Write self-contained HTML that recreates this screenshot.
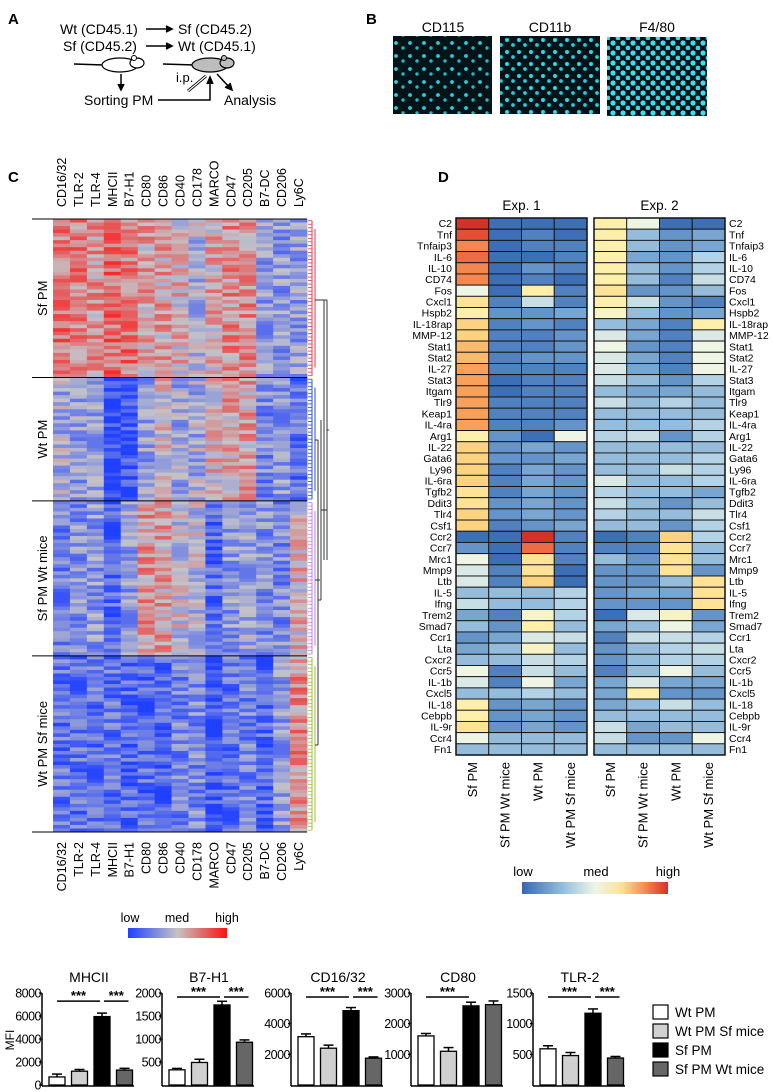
<!DOCTYPE html>
<html><head><meta charset="utf-8"><style>
html,body{margin:0;padding:0;background:#fff;}
svg{display:block;font-family:"Liberation Sans",Arial,sans-serif;}
</style></head><body>
<svg id="fig" width="773" height="1092" viewBox="0 0 773 1092" xmlns="http://www.w3.org/2000/svg">
<defs>
<pattern id="cells1" width="14" height="13" patternUnits="userSpaceOnUse"><rect width="14" height="13" fill="#031418"/><circle cx="4" cy="4" r="1.9" fill="#2bd0e0"/><circle cx="11" cy="9" r="1.7" fill="#22b8c8"/></pattern>
<pattern id="cells2" width="12" height="12" patternUnits="userSpaceOnUse"><rect width="12" height="12" fill="#031418"/><circle cx="3" cy="4" r="2" fill="#2ed6e6"/><circle cx="9" cy="9" r="1.9" fill="#28c8d8"/></pattern>
<pattern id="cells3" width="10" height="10" patternUnits="userSpaceOnUse"><rect width="10" height="10" fill="#021216"/><circle cx="3" cy="3" r="2.6" fill="#35e0f0"/><circle cx="8" cy="8" r="2.4" fill="#30d8ea"/></pattern>
<linearGradient id="gradC" x1="0" x2="1"><stop offset="0" stop-color="#2040ff"/><stop offset="0.5" stop-color="#c4c4c4"/><stop offset="1" stop-color="#ff1010"/></linearGradient>
<linearGradient id="gradD" x1="0" x2="1"><stop offset="0" stop-color="#3868b0"/><stop offset="0.3" stop-color="#9cc4df"/><stop offset="0.5" stop-color="#eef6e4"/><stop offset="0.68" stop-color="#fde39a"/><stop offset="0.85" stop-color="#f5854e"/><stop offset="1" stop-color="#d73027"/></linearGradient>
</defs>

<!-- Panel A -->
<g font-size="14">
<text x="8" y="24" font-weight="bold" font-size="15">A</text>
<text x="60" y="34">Wt (CD45.1)</text>
<text x="178" y="34">Sf (CD45.2)</text>
<text x="63" y="51">Sf (CD45.2)</text>
<text x="178" y="51">Wt (CD45.1)</text>
<g stroke="#000" stroke-width="1.6" fill="none">
<line x1="146" y1="29" x2="170" y2="29"/><polyline points="166,26 172,29 166,32" fill="#000"/>
<line x1="146" y1="46" x2="170" y2="46"/><polyline points="166,43 172,46 166,49" fill="#000"/>
</g>
<g>
<line x1="74" y1="64" x2="104" y2="65" stroke="#000" stroke-width="1.5"/>
<ellipse cx="120" cy="65" rx="18" ry="7" fill="#fff" stroke="#000" stroke-width="1.2"/>
<ellipse cx="137" cy="63" rx="7" ry="5" fill="#fff" stroke="#000" stroke-width="1.2"/>
<circle cx="134" cy="58" r="2.5" fill="#fff" stroke="#000"/>
</g>
<g>
<line x1="163" y1="64" x2="195" y2="65" stroke="#000" stroke-width="1.5"/>
<ellipse cx="210" cy="65" rx="18" ry="7" fill="#bdbdbd" stroke="#000" stroke-width="1.2"/>
<ellipse cx="227" cy="63" rx="7" ry="5" fill="#bdbdbd" stroke="#000" stroke-width="1.2"/>
<circle cx="224" cy="58" r="2.5" fill="#bdbdbd" stroke="#000"/>
</g>
<g stroke="#000" stroke-width="1.5" fill="none">
<line x1="121" y1="74" x2="121" y2="88"/><polyline points="118,84 121,90 124,84" fill="#000"/>
<polyline points="158,100 210,100 210,80"/><polyline points="207,84 210,77 213,84" fill="#000"/>
<line x1="217" y1="74" x2="230" y2="88"/><polyline points="225,87 232,90 230,83" fill="#000"/>
<line x1="188" y1="91" x2="206" y2="76" stroke-width="3"/><line x1="188" y1="91" x2="206" y2="76" stroke="#fff" stroke-width="1.2"/>
</g>
<text x="176" y="82" font-size="13">i.p.</text>
<text x="84" y="105">Sorting PM</text>
<text x="224" y="105">Analysis</text>
</g>

<!-- Panel B -->
<g font-size="14">
<text x="366" y="24" font-weight="bold" font-size="15">B</text>
<text x="443" y="32" text-anchor="middle">CD115</text>
<text x="550" y="32" text-anchor="middle">CD11b</text>
<text x="657" y="32" text-anchor="middle">F4/80</text>
<rect x="393" y="36" width="99" height="78" fill="url(#cells1)"/>
<rect x="500" y="36" width="100" height="78" fill="url(#cells2)"/>
<rect x="607" y="37" width="100" height="79" fill="url(#cells3)"/>
</g>

<text x="8" y="182" font-weight="bold" font-size="15">C</text>
<text x="438" y="182" font-weight="bold" font-size="15">D</text>
<g id="panelC"></g>
<g id="panelD"></g>
<g id="panelE"></g>
</svg>
<script>
// ---------- Panel C data ----------
const cMarkers = ["CD16/32","TLR-2","TLR-4","MHCII","B7-H1","CD80","CD86","CD40","CD178","MARCO","CD47","CD205","B7-DC","CD206","Ly6C"];
const cGroups = ["Sf PM","Wt PM","Sf PM Wt mice","Wt PM Sf mice"];
const cGroupRows = [45,35,44,50];
const cMeanSfPM = [0.45,0.4,0.25,0.5,0.45,0.2,0.2,0.1,-0.15,0.15,0.3,0.3,-0.3,-0.35,-0.3];
const cMeanWtPM = [-0.2,-0.3,-0.25,-0.95,-0.85,-0.3,0.05,-0.25,-0.2,0.1,0.2,0.2,-0.45,-0.35,-0.6];
const cMeanSfWt = [-0.5,-0.4,-0.35,-0.7,-0.3,0.25,0.2,-0.05,-0.1,-0.7,-0.35,-0.25,-0.4,-0.45,0.1];
const cMeanWtSf = [-0.6,-0.6,-0.6,-0.6,-0.7,-0.65,-0.7,-0.5,-0.45,-0.8,-0.6,-0.5,-0.7,-0.3,0.3];
const cTexture = "3816049275513862094718265730491857206384957102648395067281945036271859402687315947260385194072";

// ---------- Panel D data ----------
const dGenes = ["C2","Tnf","Tnfaip3","IL-6","IL-10","CD74","Fos","Cxcl1","Hspb2","IL-18rap","MMP-12","Stat1","Stat2","IL-27","Stat3","Itgam","Tlr9","Keap1","IL-4ra","Arg1","IL-22","Gata6","Ly96","IL-6ra","Tgfb2","Ddit3","Tlr4","Csf1","Ccr2","Ccr7","Mrc1","Mmp9","Ltb","IL-5","Ifng","Trem2","Smad7","Ccr1","Lta","Cxcr2","Ccr5","IL-1b","Cxcl5","IL-18","Cebpb","IL-9r","Ccr4","Fn1"];
const dConditions = ["Sf PM","Sf PM Wt mice","Wt PM","Wt PM Sf mice"];
const dExp1SfPM   = [10,9.5,8.5,9,8.5,8.5,5,6.5,6,7,7,7.5,7.5,8,8,8,8,8,8,6,7,7,7,7,6.5,6.5,7,7,1,2,5,4.5,4.5,3,4,2.5,3,2,2.5,3,5,4.5,3,6,6,6.5,5,3];
const dExp1SfWt   = [1,1,1,1,1,1,1,1.5,2,1.5,1.5,1.5,1.5,1.5,1,1,1.5,1.5,1.5,2,2,2,1.5,1.5,1.5,2,2,1.5,1,1,1,1.5,1.5,3,3,1.5,2,2.5,3,3,1.5,1.5,3,2,2,2,3,3];
const dExp1WtPM   = [1,1.5,1.5,1,2,1.5,6,4,2,2,1.5,1.5,2,1.5,1.5,1.5,1.5,1.5,1.5,1,2.5,2,2.5,2.5,2.5,2.5,2.5,2,10,9,6.5,6.5,7,3,3,5.5,6,4.5,5.5,4,4,5,3.5,2.5,2.5,2.5,3,3];
const dExp1WtSf   = [1,1,1.5,1.5,1.5,1,1.5,1.5,2.5,1.5,2,2,2,1.5,1.5,1.5,1.5,1.5,2,5,2,2.5,2,2,2,2,2,2.5,1.5,1.5,1.5,1,1,3.5,3.5,3.5,3,4,3,3.5,3,2.5,3,2,2,2,3,3];
const dExp2SfPM   = [6,6,6,6,6,6,6.5,6,5.5,3,4.5,5,4.5,4.5,4,3,4,3,3,3.5,3,3,3,4.5,3.5,4,3.5,3,1,1.5,3,2,2,2,2,1,2.5,1.5,2,2,1.5,2.5,2.5,2.5,3,4,4,3];
const dExp2SfWt   = [5,3,3,2.5,3,3,2,4,3,2.5,2.5,2,2.5,2.5,3,2.5,3,3,3,4,3,3,3,3,3,3,3,3,1.5,1.5,2,2,2,2.5,2,4.5,3,4,3,3,3,4.5,6,3,3,2.5,2,3];
const dExp2WtPM   = [1,2,2,2,2,1.5,2,2,2,1.5,1.5,1.5,1.5,1.5,2,2.5,3.5,3,3,2,3,3,4,3,3,2,3,2,7,6.5,6.5,6.5,3,2.5,2,5.5,5,4,3.5,3.5,5,2.5,2,4,3,3,2,3];
const dExp2WtSf   = [1,2.5,2.5,3.5,3.5,4,3,1.5,2.5,6,4.5,5,5,5,3.5,3,3,3,3.5,3.5,3,3.5,3.5,3.5,2.5,3,4,3.5,3.5,3,3,2,6.5,6.5,6.5,2,2.5,3.5,4,3.5,3,2.5,2,3,3,3,5,3];

// ---------- Bar chart data ----------
const barMarkers = ["MHCII","B7-H1","CD16/32","CD80","TLR-2"];
const barGroups = ["Wt PM","Wt PM Sf mice","Sf PM","Sf PM Wt mice"];
const barMax = [8000,2000,6000,3000,1500];
const barTicks = [[0,2000,4000,6000,8000],[500,1000,1500,2000],[2000,4000,6000],[1000,2000,3000],[500,1000,1500]];
const barMeans = [[700,1200,5950,1300],[330,490,1740,930],[3150,2400,4850,1750],[1600,1100,2580,2620],[590,480,1170,440]];
const barErrs  = [[250,150,300,150],[30,70,80,50],[180,200,200,80],[80,120,120,120],[50,50,70,25]];
const barSig = [[[0,2],[2,3]],[[0,2],[2,3]],[[0,2],[2,3]],[[0,2]],[[0,2],[2,3]]];

const NS="http://www.w3.org/2000/svg";
function mk(tag,attrs,parent,txt){const e=document.createElementNS(NS,tag);for(const k in attrs)e.setAttribute(k,attrs[k]);if(txt!==undefined)e.textContent=txt;parent.appendChild(e);return e;}
function lerp(a,b,t){return a+(b-a)*t;}
function mixHex(c1,c2,t){const p=h=>[1,3,5].map(i=>parseInt(h.substr(i,2),16));const a=p(c1),b=p(c2);return "rgb("+a.map((v,i)=>Math.round(lerp(v,b[i],t))).join(",")+")";}

// ---------- Panel C ----------
(function(){
const g=document.getElementById('panelC');
const x0=53,x1=307,y0=219,y1=832;
const nC=cMarkers.length, cw=(x1-x0)/nC;
const xC=i=>x0+i*cw;
const totalRows=cGroupRows.reduce((a,b)=>a+b,0);
const rh=(y1-y0)/totalRows;
const means=[cMeanSfPM,cMeanWtPM,cMeanSfWt,cMeanWtSf];
function col(v){v=Math.max(-1,Math.min(1,v));return v<0?mixHex("#c4c4c8","#2040ff",-v):mixHex("#c4c4c8","#ff1010",v);}
let r=0;const bounds=[y0];
means.forEach((m,gi)=>{
  for(let k=0;k<cGroupRows[gi];k++,r++){
    for(let c=0;c<nC;c++){
      const t=(+cTexture[(r*7+c*13)%cTexture.length]-4.5)/4.5;
      const v=m[c]+t*0.35;
      const cell=mk('rect',{x:xC(c).toFixed(2),y:(y0+r*rh).toFixed(2),width:(cw+0.4).toFixed(2),height:(rh+0.4).toFixed(2),fill:col(v)},g);
      
      
    }
  }
  bounds.push(y0+r*rh);
});
bounds.forEach((b,i)=>{const l=mk('line',{x1:32,x2:x1,y1:b,y2:b,stroke:'#000','stroke-width':1},g);

});
cGroups.forEach((name,i)=>{const cy=(bounds[i]+bounds[i+1])/2;
const t=mk('text',{x:0,y:0,transform:`translate(47,${cy}) rotate(-90)`,'text-anchor':'middle','font-size':13},g,name);

});
cMarkers.forEach((m,i)=>{const cx=xC(i)+cw/2+4.5;
const t=mk('text',{x:0,y:0,transform:`translate(${cx},207) rotate(-90)`,'font-size':12.5},g,m);


const b=mk('text',{x:0,y:0,transform:`translate(${cx},842) rotate(-90)`,'text-anchor':'end','font-size':12.5},g,m);

});
const dcol=['#e8384a','#2a4fd8','#c07ef0','#9cc23a'];
for(let gi=0;gi<4;gi++){
  const a=bounds[gi],b=bounds[gi+1];
  for(let y=a+1.7;y<b;y+=rh){mk('line',{x1:308,x2:312,y1:y,y2:y,stroke:dcol[gi],'stroke-width':0.8},g);}
  mk('line',{x1:312,x2:312,y1:a+1.7,y2:b-1.7,stroke:dcol[gi],'stroke-width':1},g);
  mk('line',{x1:315,x2:315,y1:a+10,y2:b-10,stroke:dcol[gi],'stroke-width':1},g);
}
const dk=mk('path',{d:'M315,300 H324 M315,440 H318 M315,580 H320 M315,745 H318 M318,440 V745 M318,600 H321 M321,420 V600 M321,510 H327 M324,300 V560 M324,300 H327 M327,300 V560 M327,430 H329',stroke:'#333','stroke-width':1,fill:'none'},g);


const lg=mk('rect',{x:128,y:928,width:99,height:10,fill:'url(#gradC)'},g);


[['low',130],['med',177],['high',227]].forEach(([s,x])=>{const t=mk('text',{x:x,y:922,'text-anchor':'middle','font-size':12.5},g,s);

});
})();

// ---------- Panel D ----------
(function(){
const g=document.getElementById('panelD');
const y0=218,y1=755,n=dGenes.length,rh=(y1-y0)/n;
const cw=(587-456)/4;
const exps=[{x:456,cols:[dExp1SfPM,dExp1SfWt,dExp1WtPM,dExp1WtSf],title:'Exp. 1'},{x:594,cols:[dExp2SfPM,dExp2SfWt,dExp2WtPM,dExp2WtSf],title:'Exp. 2'}];
const stops=[[0,'#3462ad'],[1,'#3d6fb6'],[2.5,'#79a6d1'],[3.5,'#b3d2e6'],[5,'#eef5e4'],[6,'#fef0aa'],[7,'#fdd381'],[8,'#f9a05a'],[9,'#ef6b43'],[10,'#d73027']];
function col(v){for(let i=1;i<stops.length;i++){if(v<=stops[i][0]){const t=(v-stops[i-1][0])/(stops[i][0]-stops[i-1][0]);return mixHex(stops[i-1][1],stops[i][1],t);}}return stops[stops.length-1][1];}
exps.forEach(e=>{
  const t=mk('text',{x:e.x+2*cw,y:210,'text-anchor':'middle','font-size':13.5},g,e.title);
  
  
  e.cols.forEach((arr,c)=>{arr.forEach((v,r)=>{
    const cell=mk('rect',{x:(e.x+c*cw).toFixed(2),y:(y0+r*rh).toFixed(2),width:cw.toFixed(2),height:rh.toFixed(2),fill:col(v),stroke:'#111','stroke-width':0.9},g);
    
    
  });
  const lab=mk('text',{x:0,y:0,transform:`translate(${e.x+c*cw+cw/2+4.5},762) rotate(-90)`,'text-anchor':'end','font-size':13},g,dConditions[c]);
  
  
  });
  mk('rect',{x:e.x,y:y0,width:4*cw,height:y1-y0,fill:'none',stroke:'#111','stroke-width':1.5},g);
});
dGenes.forEach((name,r)=>{const cy=y0+r*rh+rh/2+3.6;
const a=mk('text',{x:452,y:cy,'text-anchor':'end','font-size':10.5},g,name);


const b=mk('text',{x:729,y:cy,'font-size':10.5},g,name);

});
const lg=mk('rect',{x:522,y:882,width:146,height:12,fill:'url(#gradD)'},g);


[['low',523],['med',596],['high',668]].forEach(([s,x])=>{const t=mk('text',{x:x,y:876,'text-anchor':'middle','font-size':13},g,s);

});
})();

// ---------- Bar charts ----------
(function(){
const g=document.getElementById('panelE');
const axX=[42,162,291,411,533];
const fills=['#ffffff','#d0d0d0','#000000','#666666'];
const yB=1085,yT=993;
barMarkers.forEach((m,ci)=>{
  const x0=axX[ci];
  const y=v=>yB-(v/barMax[ci])*(yB-yT);
  const t=mk('text',{x:x0+47,y:982,'text-anchor':'middle','font-size':14},g,m);
  
  
  mk('line',{x1:x0,x2:x0,y1:yT,y2:yB+1,stroke:'#000','stroke-width':1.5},g);
  mk('line',{x1:x0,x2:x0+92,y1:yB+1,y2:yB+1,stroke:'#000','stroke-width':1.5},g);
  barTicks[ci].forEach(v=>{mk('line',{x1:x0-3,x2:x0,y1:y(v),y2:y(v),stroke:'#000','stroke-width':1.2},g);
    const tl=mk('text',{x:x0-1,y:y(v)+4.5,'text-anchor':'end','font-size':12.5,'letter-spacing':'-0.5'},g,String(v));
    
    });
  const bx=i=>x0+7+i*22.5;
  barMeans[ci].forEach((v,i)=>{
    const cx=bx(i)+8;
    mk('line',{x1:cx,x2:cx,y1:y(v),y2:y(v+barErrs[ci][i]),stroke:'#000','stroke-width':1.5},g);
    mk('line',{x1:cx-5,x2:cx+5,y1:y(v+barErrs[ci][i]),y2:y(v+barErrs[ci][i]),stroke:'#000','stroke-width':1.5},g);
    const b=mk('rect',{x:bx(i),y:y(v),width:16,height:yB-y(v),fill:fills[i],stroke:'#000','stroke-width':1.3},g);
    
    
  });
  barSig[ci].forEach(([a,b])=>{
    const top=Math.max(...barMeans[ci].slice(a,b+1).map((v,k)=>v+barErrs[ci][a+k]));
    const ly=Math.max(yT+4,y(top)-12);
    const xa=bx(a)+8+(a===0?0:2), xb=bx(b)+8-(b===2?2:0)+(b===3?4:0);
    mk('line',{x1:xa,x2:xb,y1:ly,y2:ly,stroke:'#000','stroke-width':1.5},g);
    const s=mk('text',{x:(xa+xb)/2,y:ly-1,'text-anchor':'middle','font-size':13,'font-weight':'bold'},g,'***');
    
    
  });
});
const mfi=mk('text',{x:0,y:0,transform:'translate(14,1040) rotate(-90)','text-anchor':'middle','font-size':12},g,'MFI');


barGroups.forEach((name,i)=>{const yy=1012+i*19;
  const r=mk('rect',{x:653,y:yy-7,width:15,height:14,fill:fills[i],stroke:'#000','stroke-width':1.2},g);
  
  
  const t=mk('text',{x:675,y:yy+5,'font-size':13.5},g,name);
  
  });
})();
</script>
</body></html>
